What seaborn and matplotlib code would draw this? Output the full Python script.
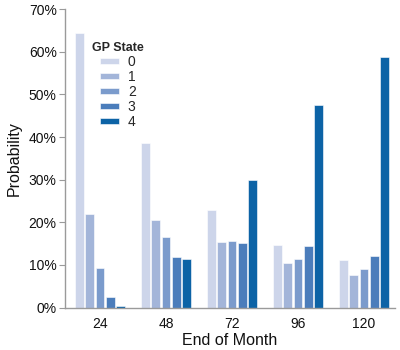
import matplotlib
matplotlib.use("Agg")
import matplotlib.pyplot as plt
import seaborn as sns
import pandas as pd
from matplotlib.ticker import FuncFormatter

months = ["24", "48", "72", "96", "120"]
states = ["0", "1", "2", "3", "4"]
state0 = [64.5, 38.5, 22.8, 14.8, 11.1]
state1 = [22.0, 20.5, 15.3, 10.4, 7.6]
state2 = [9.4, 16.6, 15.6, 11.5, 9.0]
state3 = [2.6, 11.9, 15.1, 14.5, 12.2]
state4 = [0.4, 11.4, 30.0, 47.5, 58.7]
colors = ["#cdd5ea", "#a3b5d9", "#7b9bcc", "#4b7dbb", "#0c63a6"]

rows = []
for s, vals in zip(states, [state0, state1, state2, state3, state4]):
    for m, v in zip(months, vals):
        rows.append({"month": m, "state": s, "prob": v})
df = pd.DataFrame(rows)

sns.set_style("white")
plt.rcParams["font.family"] = ["Liberation Sans", "DejaVu Sans"]

fig = plt.figure(figsize=(4, 3.5), dpi=100)
ax = fig.add_axes([0.1625, 0.121, 0.825, 0.853])
sns.barplot(data=df, x="month", y="prob", hue="state", order=months,
            hue_order=states, palette=colors, saturation=1, width=0.78, gap=0.15,
            edgecolor="white", linewidth=0.4, ax=ax, errorbar=None)

ax.set_ylim(0, 70)
ax.set_xlim(-0.53, 4.47)
ax.set_yticks(range(0, 71, 10))
ax.yaxis.set_major_formatter(FuncFormatter(lambda v, p: f"{int(v)}%"))
for side in ["top", "right"]:
    ax.spines[side].set_visible(False)
for side in ["left", "bottom"]:
    ax.spines[side].set_color("#9a9a9a")
    ax.spines[side].set_linewidth(1.0)
ax.tick_params(axis="y", which="both", left=True, length=4, color="#9a9a9a",
               labelsize=10, pad=2, labelcolor="#111111")
ax.tick_params(axis="x", bottom=False, labelsize=10, pad=3, labelcolor="#111111")
ax.set_xlabel("End of Month", fontsize=11.5, color="#111111", labelpad=2)
ax.set_ylabel("Probability", fontsize=11.5, color="#111111", labelpad=5)

handles, labels = ax.get_legend_handles_labels()
leg = ax.legend(handles, labels, title="GP State", loc="upper left",
                bbox_to_anchor=(0.065, 0.91), frameon=False, fontsize=10,
                title_fontproperties={"size": 9, "weight": "bold"},
                handlelength=1.4, handleheight=0.3,
                handletextpad=0.6, labelspacing=0.08, borderaxespad=0)
for h in leg.legend_handles:
    h.set_edgecolor("white")

fig.savefig("out.png", dpi=100)
